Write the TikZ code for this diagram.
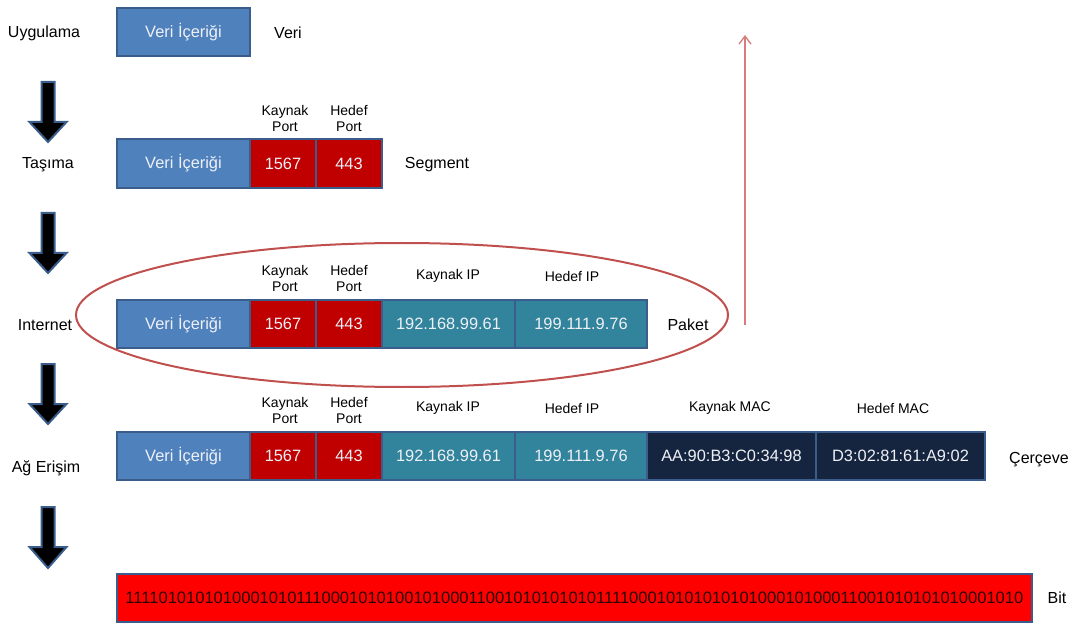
\documentclass[tikz,border=0pt]{standalone}
\usepackage{fontspec}
\setmainfont{Liberation Sans}
\usetikzlibrary{arrows.meta,calc}
\definecolor{segblue}{HTML}{4F81BD}
\definecolor{segline}{HTML}{3A5D8C}
\definecolor{segred}{HTML}{C00000}
\definecolor{segteal}{HTML}{31849B}
\definecolor{segnavy}{HTML}{15253F}
\definecolor{bitred}{HTML}{FF0000}
\definecolor{bittext}{HTML}{2A0505}
\definecolor{ringred}{HTML}{C0504D}
\definecolor{uparrow}{HTML}{D77B7B}
\definecolor{segtext}{HTML}{EEF0F6}

% one field of a header: name, left, right, top, bottom, fill, text
\newcommand\pktseg[7]{%
  \node[seg, fill=#6, minimum width={(#3-#2)*0.75pt}, minimum height={(#5-#4)*0.75pt}]
    (#1) at ({(#2+#3)/2},{(#4+#5)/2}) {#7};}
% black step arrow between the layers: name, centre x, top y, bottom y
\newcommand\layerarrow[4]{%
  \coordinate (#1) at (#2,#3);
  \draw[stepdown] ([xshift=-6.5*0.75pt]#1) -- ++(0,40) -- ++(-12,0) -- ($(#1)+(0,#4-#3)$)
    -- ($(#1)+(18.5,40)$) -- ++(-12,0) -- ([xshift=6.5*0.75pt]#1) -- cycle;}

\begin{document}
\begin{tikzpicture}[x=0.75pt,y=-0.75pt,
  seg/.style={draw=segline, line width=1.5pt, inner sep=0pt, outer sep=0pt,
    text=segtext, font=\fontsize{12.3}{14}\selectfont},
  layer/.style={font=\fontsize{12}{14}\selectfont, text=black},
  unitname/.style={font=\fontsize{12}{14}\selectfont, text=black},
  fieldname/.style={font=\fontsize{10.5}{12}\selectfont, align=center, text=black, inner sep=0pt},
  stepdown/.style={fill=black, draw=segline, line width=1.5pt, line join=miter},
  ring/.style={draw=ringred, line width=1.5pt},
  upflow/.style={draw=uparrow, line width=1pt, -{Straight Barb[length=6pt,width=9pt]}}]

\useasboundingbox (0,0) rectangle (1072,624);

% layer names
\node[layer] (lapp) at (44,33) {Uygulama};
\node[layer] (ltra) at (48,165) {Taşıma};
\node[layer] (lint) at (45,325) {Internet};
\node[layer] (lacc) at (46,468) {Ağ Erişim};

% arrows between the layers
\layerarrow{a1}{48}{82}{142}
\layerarrow{a2}{48}{213}{273}
\layerarrow{a3}{48}{364}{424}
\layerarrow{a4}{48}{507}{568}

% application data
\pktseg{d1}{117}{250}{8}{56}{segblue}{Veri İçeriği}
\node[unitname] (u1) at (288,33) {Veri};

% segment
\pktseg{d2}{117}{250}{139}{188}{segblue}{Veri İçeriği}
\pktseg{sp2}{250}{316}{139}{188}{segred}{1567}
\pktseg{dp2}{316}{382}{139}{188}{segred}{443}
\node[fieldname] (lsp2) at (285,118) {Kaynak\\Port};
\node[fieldname] (ldp2) at (349,118) {Hedef\\Port};
\node[unitname] (u2) at (437,165) {Segment};

% packet
\pktseg{d3}{117}{250}{300}{348}{segblue}{Veri İçeriği}
\pktseg{sp3}{250}{316}{300}{348}{segred}{1567}
\pktseg{dp3}{316}{382}{300}{348}{segred}{443}
\pktseg{si3}{382}{515}{300}{348}{segteal}{192.168.99.61}
\pktseg{di3}{515}{647}{300}{348}{segteal}{199.111.9.76}
\node[fieldname] (lsp3) at (285,278) {Kaynak\\Port};
\node[fieldname] (ldp3) at (349,278) {Hedef\\Port};
\node[fieldname] (lsi3) at (448,276) {Kaynak IP};
\node[fieldname] (ldi3) at (572,276) {Hedef IP};
\node[unitname] (u3) at (688,325) {Paket};

% frame
\pktseg{d4}{117}{250}{432}{480}{segblue}{Veri İçeriği}
\pktseg{sp4}{250}{316}{432}{480}{segred}{1567}
\pktseg{dp4}{316}{382}{432}{480}{segred}{443}
\pktseg{si4}{382}{515}{432}{480}{segteal}{192.168.99.61}
\pktseg{di4}{515}{647}{432}{480}{segteal}{199.111.9.76}
\pktseg{sm4}{647}{816}{432}{480}{segnavy}{AA:90:B3:C0:34:98}
\pktseg{dm4}{816}{985}{432}{480}{segnavy}{D3:02:81:61:A9:02}
\node[fieldname] (lsp4) at (285,410) {Kaynak\\Port};
\node[fieldname] (ldp4) at (349,410) {Hedef\\Port};
\node[fieldname] (lsi4) at (448,408) {Kaynak IP};
\node[fieldname] (ldi4) at (572,408) {Hedef IP};
\node[fieldname] (lsm4) at (730,408) {Kaynak MAC};
\node[fieldname] (ldm4) at (893,408) {Hedef MAC};
\node[unitname] (u4) at (1039,460) {Çerçeve};

% bits
\pktseg{b5}{117}{1032}{574}{622}{bitred}{\color{bittext}\fontsize{12.4}{14}\selectfont 111101010101000101011100010101001010001100101010101011110001010101010100010100011001010101010001010}
\node[unitname] (u5) at (1057,598) {Bit};

% the packet highlighted, and the way back up
\draw[ring] (402,315) ellipse [x radius=326, y radius=72];
\coordinate (upfoot) at (745,325);
\coordinate (uphead) at (745,35);
\draw[upflow] (upfoot) -- (uphead);
\end{tikzpicture}
\end{document}
